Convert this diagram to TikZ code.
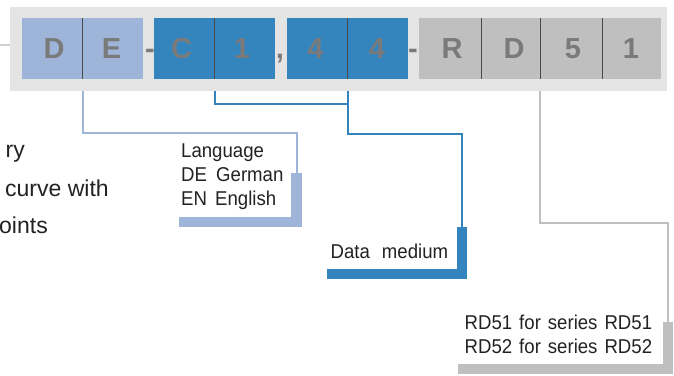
\documentclass[tikz,border=0pt]{standalone}
\usepackage{fontspec}
\setmainfont{Liberation Sans}
\newfontfamily\condsans[FakeStretch=0.93]{Liberation Sans}
\usetikzlibrary{calc}
\definecolor{bandgray}{HTML}{E4E4E4}
\definecolor{lblue}{HTML}{9FB4D9}
\definecolor{mblue}{HTML}{3484BE}
\definecolor{cgray}{HTML}{BFBFBF}
\definecolor{lettgray}{HTML}{7A7A7A}
\definecolor{divgray}{HTML}{4A4A4A}
\definecolor{labelblack}{HTML}{222222}
\definecolor{leadgray}{HTML}{CFCFCF}
\begin{document}
\begin{tikzpicture}[x=1pt,y=-1pt,
  band/.style={fill=bandgray, draw=none, inner sep=0, outer sep=0, minimum width=657, minimum height=84},
  cell/.style={draw=none, inner sep=0, outer sep=0, minimum height=61},
  divider/.style={draw=divgray, line width=1pt},
  lett/.style={font=\fontsize{29}{29}\selectfont\bfseries, text=lettgray, anchor=base, inner sep=0},
  lbl/.style={font=\condsans\fontsize{20}{20}\selectfont, text=labelblack, anchor=base west, inner sep=0},
  side/.style={font=\fontsize{23}{23}\selectfont, text=labelblack, anchor=base west, inner sep=0},
  bar/.style={draw=none, inner sep=0, outer sep=0},
  conn/.style={line width=2pt},
  leadline/.style={draw=leadgray, line width=1.5pt}]
\useasboundingbox (0,0) rectangle (674,375);
\fill[white] (0,0) rectangle (674,375);

% code band
\node[band] (band) at (338.5,49) {};
\node[cell, fill=lblue, minimum width=121] (de) at (82.5,48.5) {};
\node[cell, fill=mblue, minimum width=121] (c1) at (214.5,48.5) {};
\node[cell, fill=mblue, minimum width=121] (ff) at (347.5,48.5) {};
\node[cell, fill=cgray, minimum width=242] (rd) at (540,48.5) {};

\draw[divider] (de.north) -- (de.south);
\draw[divider] (c1.north) -- (c1.south);
\draw[divider] (ff.north) -- (ff.south);
\draw[divider] ($(rd.north west)+(62,0)$) -- ($(rd.south west)+(62,0)$);
\draw[divider] (rd.north) -- (rd.south);
\draw[divider] ($(rd.north east)+(-59,0)$) -- ($(rd.south east)+(-59,0)$);

\node[lett] (t1) at (54,58) {D};
\node[lett] (t2) at (111.5,58) {E};
\node[lett] (s1) at (150,58) {-};
\node[lett] (t3) at (181.5,58) {C};
\node[lett] (t4) at (242,58) {1};
\node[lett] (s2) at (280,58) {,};
\node[lett] (t5) at (315.5,58) {4};
\node[lett] (t6) at (377,58) {4};
\node[lett] (s3) at (413,58) {-};
\node[lett] (t7) at (452,58) {R};
\node[lett] (t8) at (514,58) {D};
\node[lett] (t9) at (573,58) {5};
\node[lett] (t10) at (631,58) {1};

% lead line at left
\coordinate (lead) at (0,45);
\draw[leadline] (lead) -- (lead -| band.west);

% side text (cut off)
\node[side] (x1) at (5.5,157) {ry};
\node[side] (x2) at (5,196) {curve with};
\node[side] (x3) at (-1,233) {oints};

% brackets
\node[bar, fill=lblue, minimum width=11, minimum height=54] (langv) at (296.5,200) {};
\node[bar, fill=lblue, minimum width=123, minimum height=10] (langh) at (240.5,222) {};
\node[bar, fill=mblue, minimum width=10, minimum height=52] (datav) at (462,253) {};
\node[bar, fill=mblue, minimum width=140, minimum height=10] (datah) at (397,274) {};
\node[bar, fill=cgray, minimum width=10, minimum height=52] (rdv) at (668,348) {};
\node[bar, fill=cgray, minimum width=215, minimum height=10] (rdh) at (565.5,369) {};

% labels
\node[lbl] (lang1) at (181,157) {Language};
\node[lbl] (lang2) at (181,181) {\makebox[35pt][l]{DE}German};
\node[lbl] (lang3) at (181,205) {\makebox[34pt][l]{EN}English};
\node[lbl] (data) at (330.5,258) {Data\hspace{12pt}medium};
\node[lbl] (rd1) at (464.5,329) {RD51\hspace{7pt}for\hspace{7pt}series\hspace{7pt}RD51};
\node[lbl] (rd2) at (464.5,353) {RD52\hspace{7pt}for\hspace{7pt}series\hspace{7pt}RD52};

% connectors
\coordinate (j1) at (0,133);
\coordinate (j2) at (0,104);
\coordinate (j3) at (0,134);
\coordinate (j4) at (0,223);
\draw[conn, lblue] (de.south |- band.south) -- (de.south |- j1) -| (langv.north);
\draw[conn, mblue] (c1.south |- band.south) |- (ff.south |- j2);
\draw[conn, mblue] (ff.south |- band.south) -- (ff.south |- j3) -| (datav.north);
\draw[conn, cgray] (rd.south |- band.south) -- (rd.south |- j4) -| (rdv.north);
\end{tikzpicture}
\end{document}
